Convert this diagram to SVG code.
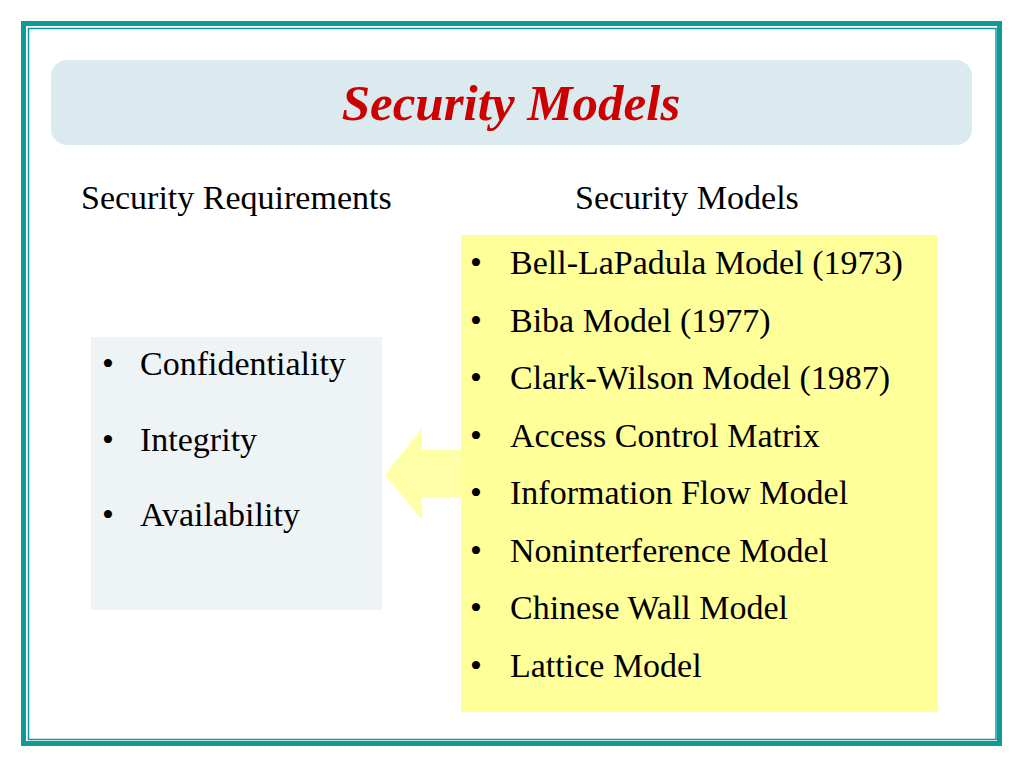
<svg xmlns="http://www.w3.org/2000/svg" width="1024" height="768" viewBox="0 0 1024 768">
<style>
.t{font-family:"Liberation Serif","Times New Roman",serif;fill:#000}
.h{font-size:34px}
.l{font-size:34px}
.r{font-size:34px}
.title{font-family:"Liberation Serif","Times New Roman",serif;font-size:51px;font-weight:bold;font-style:italic;fill:#CC0000}
</style>
<rect width="1024" height="768" fill="#FFFFFF"/>
<g id="frame">
<rect x="23.5" y="23.5" width="976" height="720" fill="none" stroke="#119A95" stroke-width="5"/>
<rect x="28.5" y="28.5" width="967.5" height="711" fill="none" stroke="#119A95" stroke-width="1.5"/>
</g>
<g id="title-bar">
<rect x="51" y="60" width="921" height="85" rx="16" fill="#DAEAEE"/>
<text class="title" x="511" y="120" text-anchor="middle">Security Models</text>
</g>
<g id="header-requirements"><text class="t h" x="81" y="209">Security Requirements</text></g>
<g id="header-models"><text class="t h" x="575" y="209">Security Models</text></g>
<g id="requirements">
<rect x="91" y="337" width="291" height="273" fill="#EEF4F6"/>
<text class="t l" x="102" y="375">•</text><text class="t l" x="140" y="375">Confidentiality</text>
<text class="t l" x="102" y="450.5">•</text><text class="t l" x="140" y="450.5">Integrity</text>
<text class="t l" x="102" y="526">•</text><text class="t l" x="140" y="526">Availability</text>
</g>
<g id="connectors">
<polygon points="385,475 422,428 422,450 461,450 461,498 422,498 422,520" fill="#FFFFA8"/>
</g>
<g id="models">
<rect x="461" y="235" width="477" height="477" fill="#FFFF99"/>
<text class="t r" x="470" y="274">•</text><text class="t r" x="510" y="274">Bell-LaPadula Model (1973)</text>
<text class="t r" x="470" y="331.5">•</text><text class="t r" x="510" y="331.5">Biba Model (1977)</text>
<text class="t r" x="470" y="389">•</text><text class="t r" x="510" y="389">Clark-Wilson Model (1987)</text>
<text class="t r" x="470" y="446.5">•</text><text class="t r" x="510" y="446.5">Access Control Matrix</text>
<text class="t r" x="470" y="504">•</text><text class="t r" x="510" y="504">Information Flow Model</text>
<text class="t r" x="470" y="561.5">•</text><text class="t r" x="510" y="561.5">Noninterference Model</text>
<text class="t r" x="470" y="619">•</text><text class="t r" x="510" y="619">Chinese Wall Model</text>
<text class="t r" x="470" y="676.5">•</text><text class="t r" x="510" y="676.5">Lattice Model</text>
</g>
</svg>
